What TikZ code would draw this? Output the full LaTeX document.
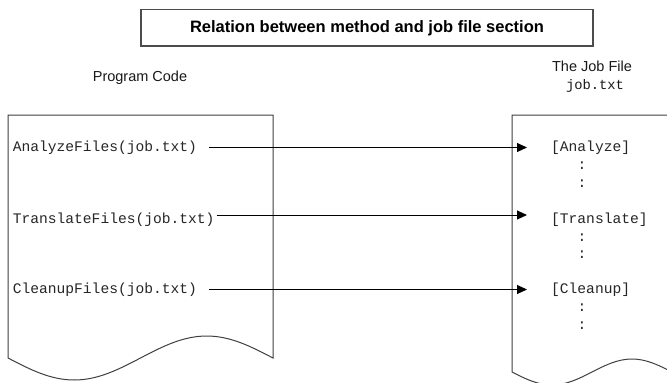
\documentclass[tikz,border=0pt]{standalone}
\usepackage{fontspec}
\setmainfont{Liberation Sans}
\setmonofont{Liberation Mono}
\usetikzlibrary{arrows.meta}
\begin{document}
\begin{tikzpicture}[x=1pt,y=-1pt,
  mono/.style={font=\fontsize{14.6}{16}\selectfont\ttfamily, inner sep=0pt, text height=11pt, text depth=3pt, text=black!85, anchor=west},
  colon/.style={font=\fontsize{14.6}{16}\selectfont\ttfamily, inner sep=0pt, text height=11pt, text depth=3pt, text=black!85},
  docshape/.style={draw=black!75, line width=1pt, fill=white},
  link/.style={draw=black, line width=0.9pt, -{Triangle[length=10pt,width=9pt]}},
  lbl/.style={font=\fontsize{14.5}{16}\selectfont, inner sep=0pt, anchor=base, text=black!90}]
\useasboundingbox (0,0) rectangle (667,383);
\clip (0,0) rectangle (667,383);
\fill[white] (0,0) rectangle (667,383);
% title
\node[draw=black!70, line width=1.2pt, minimum width=452pt, minimum height=36.5pt, inner sep=0pt,
      text height=12.5pt, text depth=3pt, font=\fontsize{16.5}{18}\selectfont\bfseries] (title) at (367,27.75)
      {Relation between method and job file section};
% headings
\node[lbl] (pc) at (140,81) {Program Code};
\node[lbl] (jf) at (592,71) {The Job File};
\node[lbl, font=\fontsize{13.8}{16}\selectfont\ttfamily] (jt) at (595,89) {job.txt};
% documents
\draw[docshape] (273,358) -- (273,115) -- (8,115) -- (8,358) sin (74.25,380) cos (140.5,358) sin (206.75,336) cos (273,358) -- cycle;
\draw[docshape] (672,372) -- (672,115) -- (512,115) -- (512,372) sin (552,385) cos (592,372) sin (632,359) cos (672,372) -- cycle;
% left texts
\node[mono] (la) at (12.7,147.5) {AnalyzeFiles(job.txt)};
\node[mono] (lt) at (12.7,219) {TranslateFiles(job.txt)};
\node[mono] (lc) at (12.7,289.5) {CleanupFiles(job.txt)};
% right texts
\node[mono] (ra) at (551,147.5) {[Analyze]};
\node[colon] (ra1) at (582,165) {:};
\node[colon] (ra2) at (582,183) {:};
\node[mono] (rt) at (551,219) {[Translate]};
\node[colon] (rt1) at (582,237) {:};
\node[colon] (rt2) at (582,254) {:};
\node[mono] (rc) at (551,289.5) {[Cleanup]};
\node[colon] (rc1) at (582,307) {:};
\node[colon] (rc2) at (582,325) {:};
% connectors
\draw[link, shorten <=12pt, shorten >=24pt] (la.east) -- (ra.west);
\draw[link, shorten <=2pt, shorten >=24pt] ([yshift=4pt]lt.east) -- ([yshift=4pt]rt.west);
\draw[link, shorten <=12pt, shorten >=24pt] (lc.east) -- (rc.west);
\end{tikzpicture}
\end{document}
